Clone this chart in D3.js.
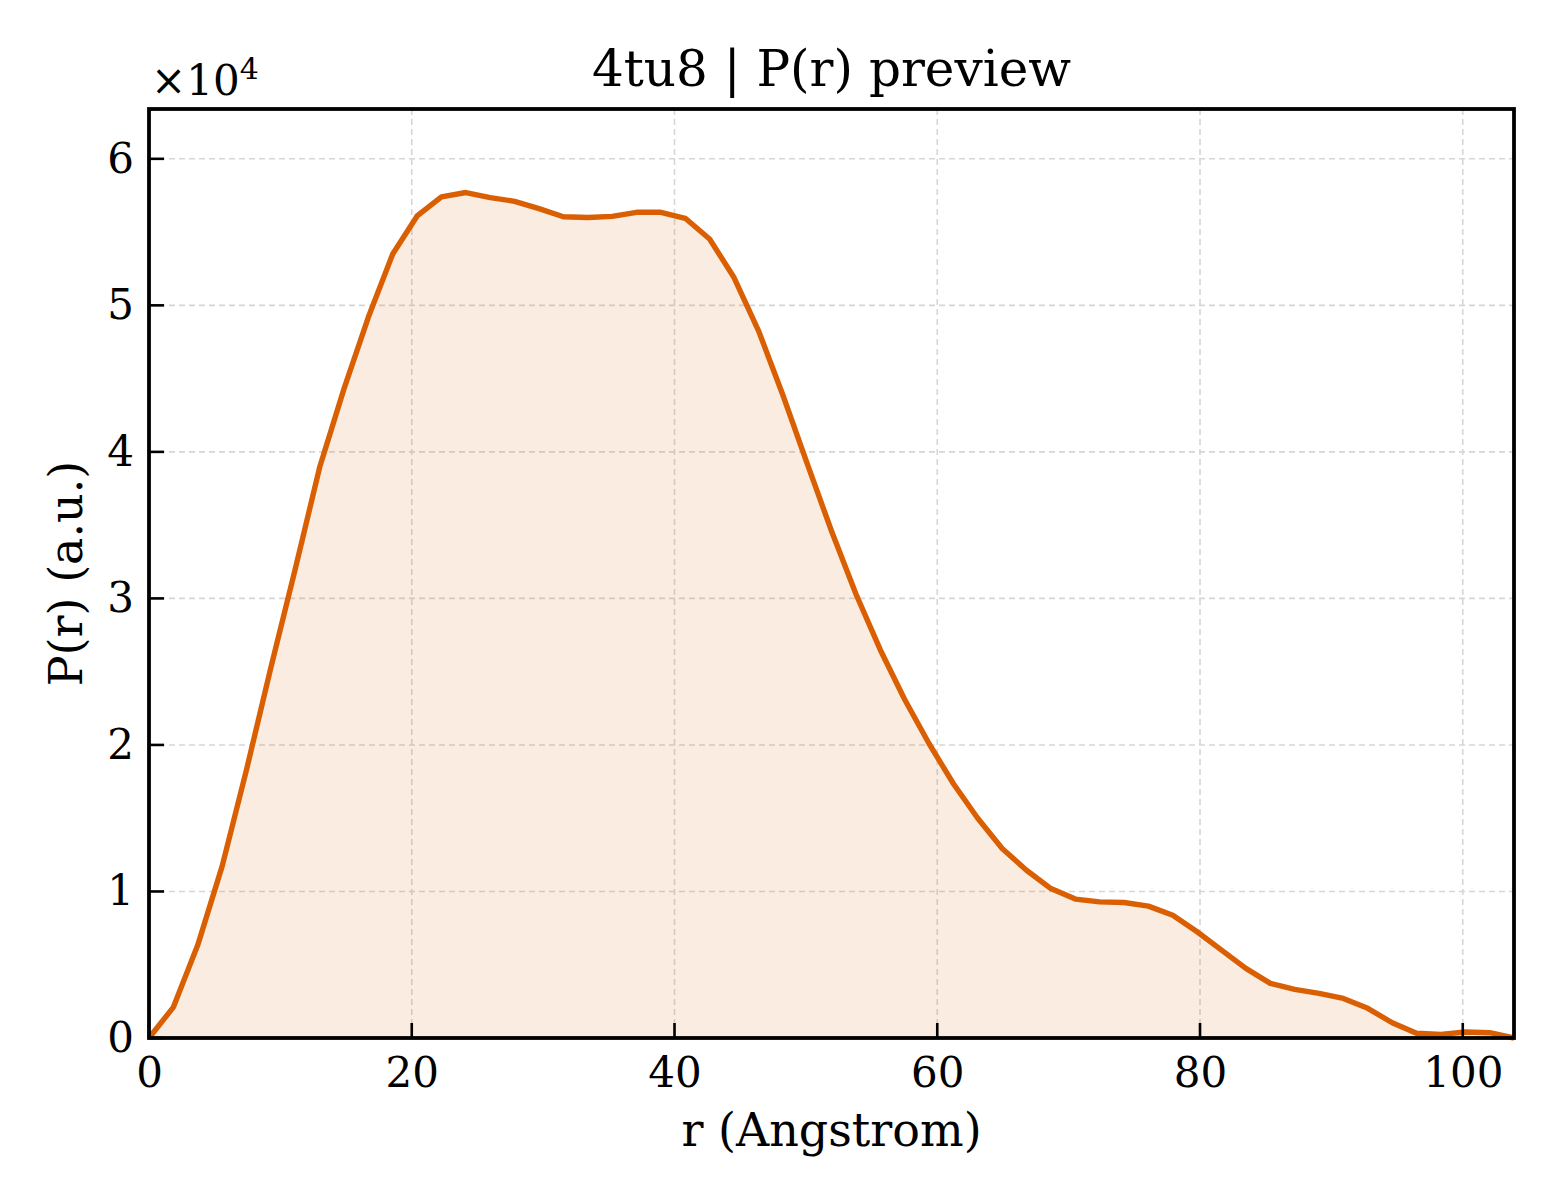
<!DOCTYPE html>
<html>
<head>
<meta charset="utf-8">
<script src="https://cdn.jsdelivr.net/npm/d3@7"></script>
<style>
  body { margin: 0; background: #fff; }
  text { font-family: "DejaVu Serif", serif; fill: #000; }
</style>
</head>
<body>
<div id="chart"></div>
<script>
// P(r) distance distribution
const rValues = [
  0, 1.86, 3.71, 5.57, 7.42, 9.28, 11.13, 12.99, 14.84, 16.70,
  18.55, 20.41, 22.26, 24.12, 25.98, 27.83, 29.69, 31.54, 33.40, 35.25,
  37.11, 38.96, 40.82, 42.67, 44.53, 46.38, 48.24, 50.10, 51.95, 53.81,
  55.66, 57.52, 59.37, 61.23, 63.08, 64.94, 66.79, 68.65, 70.51, 72.36,
  74.22, 76.07, 77.93, 79.78, 81.64, 83.49, 85.35, 87.20, 89.06, 90.91,
  92.77, 94.63, 96.48, 98.34, 100.19, 102.05, 103.90
];
const prValues = [
  0, 2110, 6340, 11730, 18300, 25300, 32000, 38950, 44300, 49200,
  53500, 56100, 57400, 57700, 57350, 57100, 56600, 56050, 56000, 56070,
  56350, 56350, 55940, 54530, 51900, 48300, 43900, 39200, 34600, 30300,
  26500, 23100, 20100, 17350, 15000, 12930, 11450, 10200, 9480, 9290,
  9250, 9000, 8380, 7250, 6000, 4750, 3730, 3320, 3050, 2700,
  2025, 1040, 320, 250, 410, 360, 0
];
const xTicks = [0, 20, 40, 60, 80, 100];
const yTicks = [0, 1, 2, 3, 4, 5, 6];   // in units of 1e4
const yScaleExp = 4;

const W = 1560, H = 1200;
const margin = { top: 109, right: 46, bottom: 162, left: 149 };
const width = W - margin.left - margin.right;
const height = H - margin.top - margin.bottom;

const lineColor = '#d95f02';
const tickFont = 42;
const tickLen = 15;

const svg = d3.select('#chart').append('svg')
  .attr('width', W).attr('height', H);

const g = svg.append('g')
  .attr('transform', `translate(${margin.left},${margin.top})`);

const x = d3.scaleLinear().domain([0, 103.9]).range([0, width]);
const y = d3.scaleLinear().domain([0, 63400]).range([height, 0]);

// dashed grid at major ticks
g.append('g')
  .selectAll('line')
  .data(xTicks.filter(d => d > 0))
  .join('line')
  .attr('x1', d => x(d)).attr('x2', d => x(d))
  .attr('y1', 0).attr('y2', height)
  .attr('stroke', '#d6d6d6').attr('stroke-width', 1.6)
  .attr('stroke-dasharray', '6,4');

g.append('g')
  .selectAll('line')
  .data(yTicks.filter(d => d > 0))
  .join('line')
  .attr('x1', 0).attr('x2', width)
  .attr('y1', d => y(d * 1e4)).attr('y2', d => y(d * 1e4))
  .attr('stroke', '#d6d6d6').attr('stroke-width', 1.6)
  .attr('stroke-dasharray', '6,4');

const pts = rValues.map((r, i) => [r, prValues[i]]);

// filled area + line
g.append('path')
  .datum(pts)
  .attr('fill', lineColor)
  .attr('fill-opacity', 0.12)
  .attr('d', d3.area().x(d => x(d[0])).y0(y(0)).y1(d => y(d[1])));

g.append('path')
  .datum(pts)
  .attr('fill', 'none')
  .attr('stroke', lineColor)
  .attr('stroke-width', 5.4)
  .attr('stroke-linejoin', 'round')
  .attr('d', d3.line().x(d => x(d[0])).y(d => y(d[1])));

// axes: labels from d3 axis, inward tick marks
const xAxis = g.append('g')
  .attr('transform', `translate(0,${height})`)
  .call(d3.axisBottom(x).tickValues(xTicks).tickSize(0).tickPadding(19).tickFormat(d3.format('d')));

const yAxis = g.append('g')
  .call(d3.axisLeft(y).tickValues(yTicks.map(d => d * 1e4)).tickSize(0).tickPadding(15)
    .tickFormat(d => d / Math.pow(10, yScaleExp)));

[xAxis, yAxis].forEach(a => {
  a.select('.domain').remove();
  a.selectAll('.tick text')
    .style('font-family', '"DejaVu Serif", serif')
    .style('font-size', tickFont + 'px')
    .attr('fill', '#000');
});

g.append('g')
  .selectAll('line')
  .data(xTicks)
  .join('line')
  .attr('x1', d => x(d)).attr('x2', d => x(d))
  .attr('y1', height).attr('y2', height - tickLen)
  .attr('stroke', '#000').attr('stroke-width', 2.6);

g.append('g')
  .selectAll('line')
  .data(yTicks)
  .join('line')
  .attr('x1', 0).attr('x2', tickLen)
  .attr('y1', d => y(d * 1e4)).attr('y2', d => y(d * 1e4))
  .attr('stroke', '#000').attr('stroke-width', 2.6);

// frame
g.append('rect')
  .attr('width', width).attr('height', height)
  .attr('fill', 'none').attr('stroke', '#000').attr('stroke-width', 3.8);

// offset text ×10^4
const off = svg.append('text')
  .attr('x', 151).attr('y', 95)
  .style('font-size', tickFont + 'px');
off.append('tspan').text('×10');
off.append('tspan').attr('dy', -16).style('font-size', '30px').text(yScaleExp);

// title and axis labels
svg.append('text')
  .attr('x', margin.left + width / 2).attr('y', 86)
  .attr('text-anchor', 'middle')
  .style('font-size', '50px')
  .text('4tu8 | P(r) preview');

svg.append('text')
  .attr('x', margin.left + width / 2).attr('y', 1146)
  .attr('text-anchor', 'middle')
  .style('font-size', '46px')
  .text('r (Angstrom)');

svg.append('text')
  .attr('transform', `translate(82,${margin.top + height / 2}) rotate(-90)`)
  .attr('text-anchor', 'middle')
  .style('font-size', '46px')
  .text('P(r) (a.u.)');
</script>
</body>
</html>
